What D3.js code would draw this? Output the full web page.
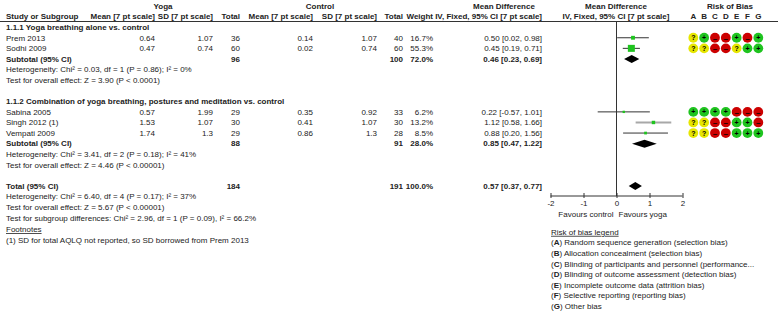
<!DOCTYPE html>
<html>
<head>
<meta charset="utf-8">
<script src="https://cdn.jsdelivr.net/npm/d3@7"></script>
<style>
  body { margin: 0; background: #fff; }
  svg { display: block; font-family: "Liberation Sans", Arial, sans-serif; font-size: 8px; }
  text { fill: #222; }
  .b { font-weight: bold; }
</style>
</head>
<body>
<div id="chart"></div>
<script>
// study level data
const studies = ["Prem 2013", "Sodhi 2009", "Sabina 2005", "Singh 2012 (1)", "Vempati 2009"];
const studyGroup = [0, 0, 1, 1, 1];
const yogaMean = [0.64, 0.47, 0.57, 1.53, 1.74];
const yogaSD = [1.07, 0.74, 1.99, 1.07, 1.3];
const yogaN = [36, 60, 29, 30, 29];
const ctrlMean = [0.14, 0.02, 0.35, 0.41, 0.86];
const ctrlSD = [1.07, 0.74, 0.92, 1.07, 1.3];
const ctrlN = [40, 60, 33, 30, 28];
const weights = [16.7, 55.3, 6.2, 13.2, 8.5];
const md = [0.50, 0.45, 0.22, 1.12, 0.88];
const mdLo = [0.02, 0.19, -0.57, 0.58, 0.20];
const mdHi = [0.98, 0.71, 1.01, 1.66, 1.56];
const bias = ["?+--+-+", "??--?++", "++++---", "??--++-", "??--+++"];

// subgroups
const groupNames = ["1.1.1 Yoga breathing alone vs. control",
  "1.1.2 Combination of yoga breathing, postures and meditation vs. control"];
const groupYogaN = [96, 88];
const groupCtrlN = [100, 91];
const groupWeight = [72.0, 28.0];
const groupMd = [0.46, 0.85];
const groupLo = [0.23, 0.47];
const groupHi = [0.69, 1.22];
const groupHet = ["Heterogeneity: Chi\u00b2 = 0.03, df = 1 (P = 0.86); I\u00b2 = 0%",
  "Heterogeneity: Chi\u00b2 = 3.41, df = 2 (P = 0.18); I\u00b2 = 41%"];
const groupTest = ["Test for overall effect: Z = 3.90 (P < 0.0001)",
  "Test for overall effect: Z = 4.46 (P < 0.00001)"];

// overall
const totalYogaN = 184, totalCtrlN = 191;
const totalMd = 0.57, totalLo = 0.37, totalHi = 0.77;
const totalNotes = ["Heterogeneity: Chi\u00b2 = 6.40, df = 4 (P = 0.17); I\u00b2 = 37%",
  "Test for overall effect: Z = 5.67 (P < 0.00001)",
  "Test for subgroup differences: Chi\u00b2 = 2.96, df = 1 (P = 0.09), I\u00b2 = 66.2%"];
const footnotes = ["(1) SD for total AQLQ not reported, so SD borrowed from Prem 2013"];

const xTicks = [-2, -1, 0, 1, 2];
const biasLetters = ["A", "B", "C", "D", "E", "F", "G"];
const biasLegend = ["Random sequence generation (selection bias)",
  "Allocation concealment (selection bias)",
  "Blinding of participants and personnel (performance...",
  "Blinding of outcome assessment (detection bias)",
  "Incomplete outcome data (attrition bias)",
  "Selective reporting (reporting bias)",
  "Other bias"];

const width = 778, height = 320;
const svg = d3.select("#chart").append("svg")
  .attr("width", width).attr("height", height);

// row grid
const row = d3.scaleLinear().domain([0, 17]).range([6, 186]);
const x = d3.scaleLinear().domain([-2, 2]).range([550.5, 682.5]);
const boxSide = d3.scaleSqrt().domain([0, 55.3]).range([0, 7]);
const biasX = d3.scalePoint().domain(biasLetters).range([693.3, 758.3]);
const biasColor = { "?": "#e6e600", "+": "#1fc41f", "-": "#cc0000" };

// column positions (right edges)
const col = { study: 6, yMean: 155, ySD: 213, yN: 240, cMean: 313, cSD: 377, cN: 403,
  weight: 433, ci: 542 };

function txt(xp, yp, s, anchor, bold) {
  return svg.append("text")
    .attr("x", xp).attr("y", yp).attr("dy", "0.35em")
    .attr("text-anchor", anchor || "start")
    .attr("class", bold ? "b" : null)
    .text(s);
}
const ci = (m, l, h) => `${m.toFixed(2)} [${l.toFixed(2)}, ${h.toFixed(2)}]`;

// headers
txt(163, row(0), "Yoga", "middle", true);
txt(320, row(0), "Control", "middle", true);
txt(504, row(0), "Mean Difference", "middle", true);
txt(616, row(0), "Mean Difference", "middle", true);
txt(730, row(0), "Risk of Bias", "middle", true);
txt(col.study, row(1), "Study or Subgroup", "start", true);
txt(col.yMean, row(1), "Mean [7 pt scale]", "end", true);
txt(col.ySD, row(1), "SD [7 pt scale]", "end", true);
txt(col.yN, row(1), "Total", "end", true);
txt(col.cMean, row(1), "Mean [7 pt scale]", "end", true);
txt(col.cSD, row(1), "SD [7 pt scale]", "end", true);
txt(col.cN, row(1), "Total", "end", true);
txt(col.weight, row(1), "Weight", "end", true);
txt(col.ci, row(1), "IV, Fixed, 95% CI [7 pt scale]", "end", true);
txt(616, row(1), "IV, Fixed, 95% CI [7 pt scale]", "middle", true);
biasLetters.forEach(l => txt(biasX(l), row(1), l, "middle", true));

svg.append("line").attr("x1", 0).attr("x2", width)
  .attr("y1", 21.5).attr("y2", 21.5).attr("stroke", "#333").attr("stroke-width", 1);

// vertical zero line
svg.append("line").attr("x1", x(0)).attr("x2", x(0))
  .attr("y1", 22).attr("y2", 196).attr("stroke", "#333").attr("stroke-width", 1);

function diamond(m, l, h, yc) {
  const hh = 4;
  svg.append("path")
    .attr("d", `M${x(l)},${yc}L${x(m)},${yc - hh}L${x(h)},${yc}L${x(m)},${yc + hh}Z`)
    .attr("fill", "#000");
}

// rows
let r = 2;
groupNames.forEach((g, gi) => {
  txt(col.study, row(r), g, "start", true);
  r++;
  studies.forEach((s, i) => {
    if (studyGroup[i] !== gi) return;
    const yc = row(r);
    txt(col.study, yc, s);
    txt(col.yMean, yc, String(yogaMean[i]), "end");
    txt(col.ySD, yc, String(yogaSD[i]), "end");
    txt(col.yN, yc, String(yogaN[i]), "end");
    txt(col.cMean, yc, String(ctrlMean[i]), "end");
    txt(col.cSD, yc, String(ctrlSD[i]), "end");
    txt(col.cN, yc, String(ctrlN[i]), "end");
    txt(col.weight, yc, weights[i].toFixed(1) + "%", "end");
    txt(col.ci, yc, ci(md[i], mdLo[i], mdHi[i]), "end");
    const gray = s.indexOf("(1)") >= 0;
    svg.append("line")
      .attr("x1", x(mdLo[i])).attr("x2", x(mdHi[i]))
      .attr("y1", yc).attr("y2", yc)
      .attr("stroke", gray ? "#a8a8a8" : "#333")
      .attr("stroke-width", gray ? 2 : 1);
    const sd = boxSide(weights[i]);
    svg.append("rect")
      .attr("x", x(md[i]) - sd / 2).attr("y", yc - sd / 2)
      .attr("width", sd).attr("height", sd)
      .attr("fill", "#1fc41f");
    bias[i].split("").forEach((b, k) => {
      const cx = biasX(biasLetters[k]);
      svg.append("circle").attr("cx", cx).attr("cy", yc).attr("r", 4.9)
        .attr("fill", biasColor[b]);
      svg.append("text").attr("x", cx).attr("y", yc).attr("dy", "0.35em")
        .attr("text-anchor", "middle").attr("class", "b")
        .style("font-size", b === "-" ? "8px" : "7px")
        .style("fill", "#000")
        .text(b === "-" ? "\u2013" : b);
    });
    r++;
  });
  const yc = row(r);
  txt(col.study, yc, "Subtotal (95% CI)", "start", true);
  txt(col.yN, yc, String(groupYogaN[gi]), "end", true);
  txt(col.cN, yc, String(groupCtrlN[gi]), "end", true);
  txt(col.weight, yc, groupWeight[gi].toFixed(1) + "%", "end", true);
  txt(col.ci, yc, ci(groupMd[gi], groupLo[gi], groupHi[gi]), "end", true);
  diamond(groupMd[gi], groupLo[gi], groupHi[gi], yc);
  r++;
  txt(col.study, row(r), groupHet[gi]); r++;
  txt(col.study, row(r), groupTest[gi]); r++;
  r++; // blank line
});

// total
const yt = row(r);
txt(col.study, yt, "Total (95% CI)", "start", true);
txt(col.yN, yt, String(totalYogaN), "end", true);
txt(col.cN, yt, String(totalCtrlN), "end", true);
txt(col.weight, yt, "100.0%", "end", true);
txt(col.ci, yt, ci(totalMd, totalLo, totalHi), "end", true);
diamond(totalMd, totalLo, totalHi, yt);
r++;
totalNotes.forEach(n => { txt(col.study, row(r), n); r++; });
txt(col.study, row(r) + 1, "Footnotes").style("text-decoration", "underline");
r++;
footnotes.forEach(f => { txt(col.study, row(r) + 1, f); r++; });

// axis
const axisY = 196;
const axis = d3.axisBottom(x).tickValues(xTicks).tickSize(0).tickPadding(4)
  .tickFormat(d3.format("d"));
const ag = svg.append("g").attr("transform", `translate(0,${axisY})`).call(axis);
ag.select(".domain").attr("stroke", "#333").attr("d", `M${x(-2)},0H${x(2)}`);
ag.selectAll(".tick line").attr("stroke", "#333").attr("y1", -3).attr("y2", 2);
ag.selectAll(".tick text").style("font-size", "8px")
  .style("font-family", "Liberation Sans, Arial, sans-serif").attr("fill", "#222")
  .text(d => d < 0 ? "-" + Math.abs(d) : d);
txt(x(0) - 3, 214, "Favours control", "end");
txt(x(0) + 2, 214, "Favours yoga", "start");

// risk of bias legend
txt(551, 232, "Risk of bias legend").style("text-decoration", "underline");
biasLegend.forEach((t, i) => {
  const yl = 242.6 + i * 10.6;
  const t0 = svg.append("text").attr("x", 551).attr("y", yl).attr("dy", "0.35em");
  t0.append("tspan").text("(");
  t0.append("tspan").attr("class", "b").text(biasLetters[i]);
  t0.append("tspan").text(") " + t);
});
</script>
</body>
</html>
